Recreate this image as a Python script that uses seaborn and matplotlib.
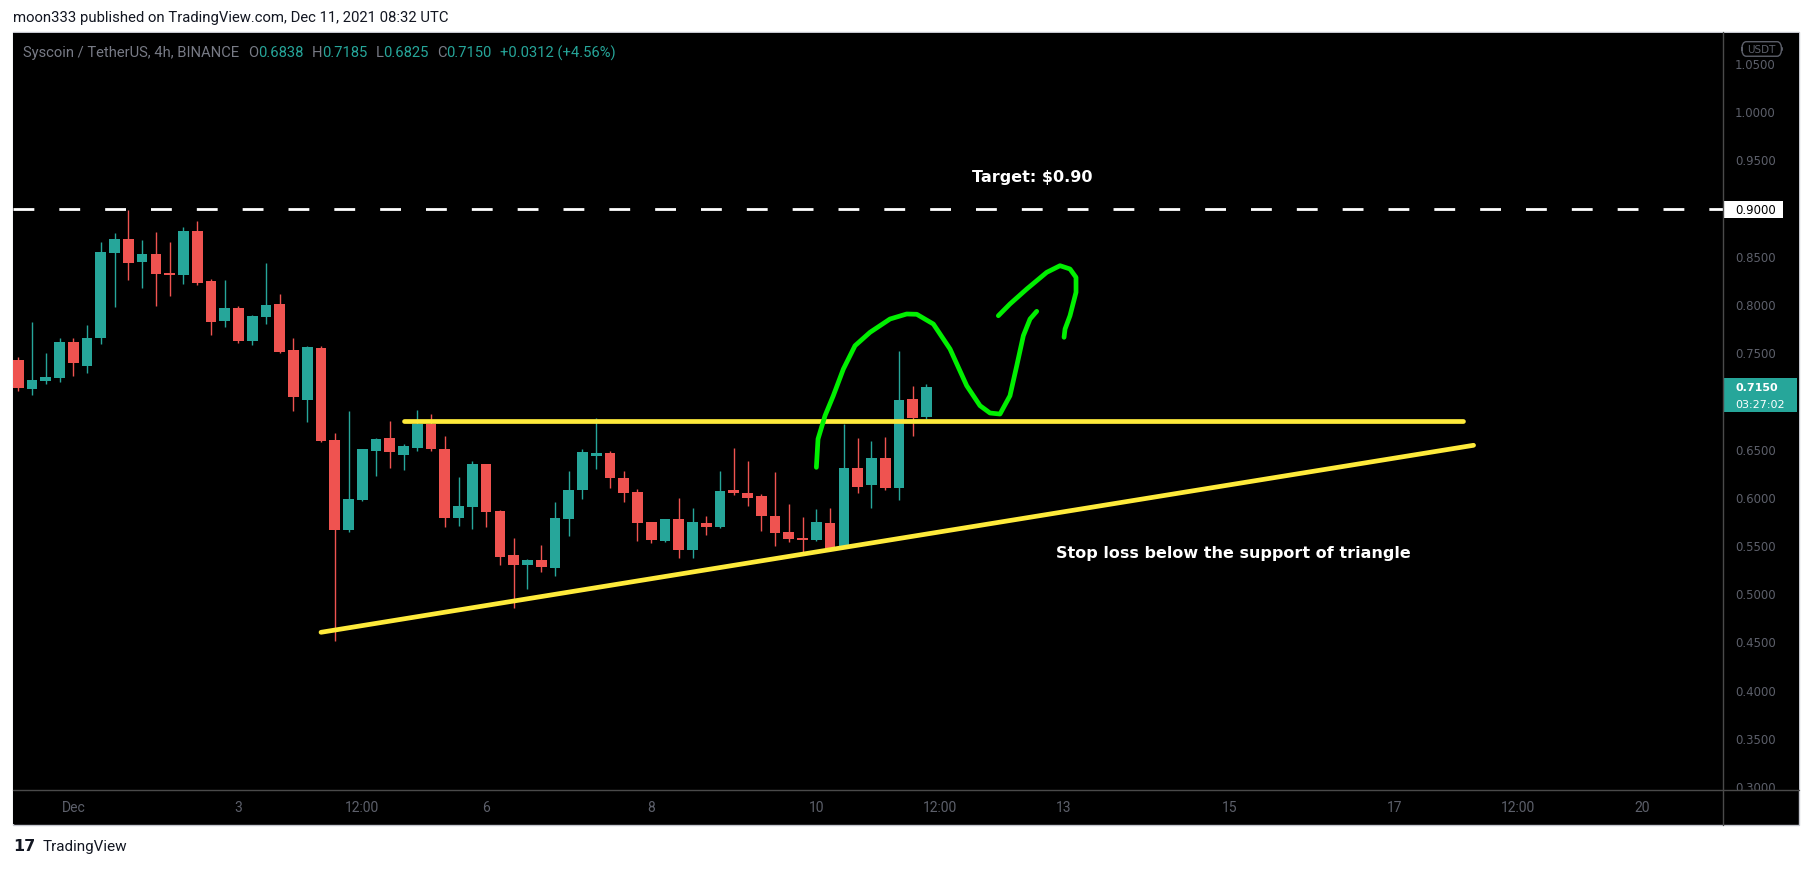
import numpy as np
import pandas as pd
import matplotlib
matplotlib.use("Agg")
import matplotlib.pyplot as plt
import matplotlib.transforms as mtransforms
from matplotlib.patches import Rectangle, FancyBboxPatch
from matplotlib.lines import Line2D
import seaborn as sns

# 4h candles, Nov 30 08:00 -> Dec 11 08:00 (x = days since Dec 1 00:00)
opens = [0.7434, 0.7133, 0.7216, 0.7247, 0.7620, 0.7375, 0.7665, 0.8547, 0.8689, 0.8454,
         0.8533, 0.8336, 0.8315, 0.8772, 0.8253, 0.7838, 0.7973, 0.7631, 0.7879, 0.8015,
         0.7537, 0.7019, 0.7558, 0.6604, 0.5670, 0.5981, 0.6490, 0.6624, 0.6448, 0.6521,
         0.6770, 0.6510, 0.5794, 0.5909, 0.6355, 0.5867, 0.5411, 0.5310, 0.5359, 0.5281,
         0.5787, 0.6085, 0.6438, 0.6469, 0.6210, 0.6065, 0.5753, 0.5556, 0.5784, 0.5463,
         0.5743, 0.5701, 0.6085, 0.6054, 0.6023, 0.5815, 0.5649, 0.5577, 0.5570, 0.5743,
         0.5498, 0.6313, 0.6142, 0.6417, 0.6101, 0.7029, 0.6838]
highs = [0.7460, 0.7828, 0.7506, 0.7662, 0.7662, 0.7797, 0.8658, 0.8751, 0.8990, 0.8678,
         0.8761, 0.8658, 0.8813, 0.8876, 0.8274, 0.8264, 0.7994, 0.7900, 0.8440, 0.8118,
         0.7662, 0.7579, 0.7579, 0.6676, 0.6905, 0.6515, 0.6624, 0.6800, 0.6562, 0.6915,
         0.6873, 0.6645, 0.6220, 0.6386, 0.6360, 0.5877, 0.5587, 0.5369, 0.5514, 0.5961,
         0.6282, 0.6510, 0.6832, 0.6490, 0.6282, 0.6095, 0.5755, 0.5784, 0.6002, 0.5898,
         0.5815, 0.6282, 0.6521, 0.6386, 0.6044, 0.6272, 0.5940, 0.5805, 0.5888, 0.5898,
         0.6770, 0.6624, 0.6593, 0.6635, 0.7527, 0.7164, 0.7185]
lows = [0.7115, 0.7071, 0.7185, 0.7205, 0.7267, 0.7302, 0.7603, 0.7987, 0.8264, 0.8180,
        0.7994, 0.8098, 0.8222, 0.8212, 0.7693, 0.7776, 0.7610, 0.7590, 0.7807, 0.7506,
        0.6904, 0.6790, 0.6585, 0.4522, 0.5650, 0.5970, 0.6230, 0.6313, 0.6292, 0.6490,
        0.6490, 0.5701, 0.5711, 0.5680, 0.5701, 0.5312, 0.4856, 0.5053, 0.5239, 0.5188,
        0.5611, 0.5992, 0.6303, 0.6106, 0.5961, 0.5556, 0.5535, 0.5545, 0.5380, 0.5380,
        0.5618, 0.5690, 0.6033, 0.5919, 0.5665, 0.5507, 0.5550, 0.5435, 0.5560, 0.5463,
        0.5490, 0.6049, 0.5902, 0.6080, 0.5986, 0.6650, 0.6825]
closes = [0.7143, 0.7226, 0.7257, 0.7620, 0.7406, 0.7662, 0.8554, 0.8689, 0.8443, 0.8533,
          0.8326, 0.8319, 0.8772, 0.8232, 0.7828, 0.7973, 0.7631, 0.7890, 0.8004, 0.7517,
          0.7050, 0.7568, 0.6593, 0.5670, 0.5992, 0.6510, 0.6614, 0.6479, 0.6540, 0.6770,
          0.6510, 0.5794, 0.5919, 0.6355, 0.5857, 0.5393, 0.5310, 0.5359, 0.5291, 0.5794,
          0.6085, 0.6479, 0.6469, 0.6210, 0.6054, 0.5743, 0.5566, 0.5784, 0.5463, 0.5753,
          0.5701, 0.6075, 0.6054, 0.6002, 0.5815, 0.5634, 0.5579, 0.5570, 0.5753, 0.5473,
          0.6313, 0.6121, 0.6417, 0.6111, 0.7019, 0.6836, 0.7150]
first_candle_day = -4 / 6

# drawings
target_price = 0.90
resist_x = [4.0, 16.83]
resist_y = [0.6798, 0.6798]
support_x = [3.0, 16.96]
support_y = [0.4609, 0.6549]
stroke1_x = [9.00, 9.02, 9.105, 9.205, 9.327, 9.468, 9.65, 9.892, 10.094, 10.216, 10.417,
             10.619, 10.821, 10.982, 11.103, 11.224, 11.345, 11.427, 11.507, 11.588, 11.669]
stroke1_y = [0.632, 0.6614, 0.6856, 0.7063, 0.734, 0.7582, 0.7721, 0.7859, 0.7911, 0.7908, 0.7807,
             0.7548, 0.7167, 0.696, 0.6884, 0.6873, 0.7063, 0.7374, 0.7686, 0.7859, 0.7939]
stroke2_x = [11.204, 11.345, 11.548, 11.79, 11.951, 12.072, 12.145, 12.145, 12.072, 12.012, 12.0]
stroke2_y = [0.7893, 0.8015, 0.817, 0.8343, 0.8412, 0.8378, 0.8291, 0.8136, 0.7893, 0.7755, 0.7669]

time_ticks = [0, 2, 3.5, 5, 7, 9, 10.5, 12, 14, 16, 17.5, 19]
time_labels = ['Dec', '3', '12:00', '6', '8', '10', '12:00', '13', '15', '17', '12:00', '20']
# 0.70 and 0.90 sit under the price badges
price_ticks = [0.30, 0.35, 0.40, 0.45, 0.50, 0.55, 0.60, 0.65, 0.75, 0.80, 0.85, 0.95, 1.00, 1.05]

UP = '#26a69a'
DOWN = '#ef5350'
YELLOW = '#ffeb3b'
AXIS_TXT = '#5d606b'
SEP = '#4a4a4a'
NARROW = ['Roboto', 'DejaVu Sans']

sns.set_style('dark', rc={'axes.facecolor': 'black', 'figure.facecolor': 'white'})
plt.rcParams['font.family'] = ['DejaVu Sans']

W, H = 1813, 870
fig = plt.figure(figsize=(W / 100, H / 100), dpi=100)


def fx(px):
    return px / W


def fy(py):
    return 1 - py / H


# chart background
fig.add_artist(Rectangle((fx(13), fy(826)), fx(1799) - fx(13), fy(33) - fy(826),
                         transform=fig.transFigure, facecolor='black', edgecolor='#c5c7cf',
                         linewidth=1, zorder=0))

L, R, T, B = 13.3, 1723.3, 34, 791
ax = fig.add_axes([fx(L), fy(B), fx(R) - fx(L), fy(T) - fy(B)])
axp = fig.add_axes([fx(R), fy(B), fx(1799) - fx(R), fy(T) - fy(B)], sharey=ax)
axt = fig.add_axes([fx(L), fy(825), fx(R) - fx(L), fy(B) - fy(825)], sharex=ax)

ymin, ymax = 0.2973, 1.0826
ax.set_xlim(-0.727, 19.985)
ax.set_ylim(ymin, ymax)
upp = (ymax - ymin) / (B - T)  # price units per pixel

for a in (ax, axp, axt):
    a.set_facecolor('black')
    a.grid(False)
    a.tick_params(left=False, bottom=False, labelleft=False, labelbottom=False,
                  right=False, top=False, labelright=False, labeltop=False)
    for s in a.spines.values():
        s.set_visible(False)

# candles
df = pd.DataFrame({'open': opens, 'high': highs, 'low': lows, 'close': closes})
df['day'] = first_candle_day + np.arange(len(df)) / 6
df['color'] = np.where(df['close'] >= df['open'], UP, DOWN)
df['body_lo'] = df[['open', 'close']].min(axis=1)
df['body_h'] = np.maximum((df['close'] - df['open']).abs(), 1.3 * upp)
ax.vlines(df['day'], df['low'], df['high'], colors=df['color'], linewidth=1, zorder=2)
ax.bar(df['day'], df['body_h'], bottom=df['body_lo'], width=0.13, color=df['color'],
       linewidth=0, zorder=3)

# drawings
ax.axhline(target_price, color='white', linewidth=2, linestyle=(0, (7.5, 9)), zorder=4)
sns.lineplot(x=resist_x, y=resist_y, ax=ax, color=YELLOW, linewidth=3.4, sort=False,
             estimator=None, zorder=5)
sns.lineplot(x=support_x, y=support_y, ax=ax, color=YELLOW, linewidth=3.4, sort=False,
             estimator=None, zorder=5)
for sx, sy in ((stroke1_x, stroke1_y), (stroke2_x, stroke2_y)):
    sns.lineplot(x=sx, y=sy, ax=ax, color='#00f000', linewidth=3.4, sort=False, estimator=None,
                 zorder=6, solid_capstyle='round', solid_joinstyle='round')

ax.text(11.62, 0.934, 'Target: $0.90', color='white', fontsize=11.5, fontweight='bold',
        ha='center', va='center', zorder=7)
ax.text(14.05, 0.5432, 'Stop loss below the support of triangle', color='white', fontsize=11.5,
        fontweight='bold', ha='center', va='center', zorder=7)

# price scale
for v in price_ticks:
    axp.text(0.155, v, f'{v:.4f}', color=AXIS_TXT, fontsize=8.5, ha='left', va='center',
             clip_on=True)
axp.add_patch(Rectangle((0, target_price - 8.5 * upp), 0.79, 17 * upp, facecolor='white',
                        edgecolor='none', zorder=5))
axp.text(0.155, target_price, f'{target_price:.4f}', color='black', fontsize=8.5, ha='left',
         va='center', zorder=6)
last = closes[-1]
axp.add_patch(Rectangle((0, last - 25 * upp), 0.974, 34 * upp, facecolor=UP, edgecolor='none',
                        zorder=5))
axp.text(0.155, last + 0.5 * upp, f'{last:.4f}', color='white', fontsize=8, fontweight='bold',
         ha='left', va='center', zorder=6)
axp.text(0.155, last - 16.5 * upp, '03:27:02', color='white', fontsize=8, ha='left',
         va='center', zorder=6)
axp.add_patch(FancyBboxPatch((0.243, 0.9693), 0.528, 0.0192, transform=axp.transAxes,
                             boxstyle='round,pad=0,rounding_size=0.06', facecolor='black',
                             edgecolor='#5d606b', linewidth=1, zorder=7, mutation_aspect=0.2))
axp.text(0.507, 0.979, 'USDT', transform=axp.transAxes, color=AXIS_TXT, fontsize=7.5,
         ha='center', va='center', zorder=8)

# time scale
tt = mtransforms.blended_transform_factory(axt.transData, axt.transAxes)
for t, lab in zip(time_ticks, time_labels):
    axt.text(t, 0.5, lab, color=AXIS_TXT, fontsize=10, ha='center', va='center',
             family=NARROW, transform=tt)

# separators
fig.add_artist(Line2D([fx(R), fx(R)], [fy(826), fy(33)], color=SEP, linewidth=1, zorder=10))
fig.add_artist(Line2D([fx(13), fx(1799)], [fy(B), fy(B)], color=SEP, linewidth=1, zorder=10))

# legend line inside the chart
pieces = [('Syscoin / TetherUS, 4h, BINANCE', '#787b86', 0), ('O', '#787b86', 9),
          ('0.6838', UP, 0), ('H', '#787b86', 8), ('0.7185', UP, 0), ('L', '#787b86', 8),
          ('0.6825', UP, 0), ('C', '#787b86', 8), ('0.7150', UP, 0),
          ('+0.0312 (+4.56%)', UP, 8)]
prev = fig.text(fx(23), fy(53), pieces[0][0], color=pieces[0][1], fontsize=10.6, family=NARROW,
                ha='left', va='center')
for txt, col, gap in pieces[1:]:
    prev = ax.annotate(txt, xy=(1, 0.5), xycoords=prev, xytext=(gap, 0),
                       textcoords='offset pixels', color=col, fontsize=10.6, family=NARROW,
                       ha='left', va='center')

# page header and footer
fig.text(fx(13.4), fy(18), 'moon333 published on TradingView.com, Dec 11, 2021 08:32 UTC',
         color='#131722', fontsize=10.7, family=NARROW, ha='left', va='center')
fig.text(fx(13), fy(847), '17', color='#131722', fontsize=11.5, fontweight='heavy', ha='left',
         va='center')
fig.text(fx(43), fy(847), 'TradingView', color='#131722', fontsize=11, family=NARROW,
         ha='left', va='center')

fig.savefig('out.png', dpi=100)
